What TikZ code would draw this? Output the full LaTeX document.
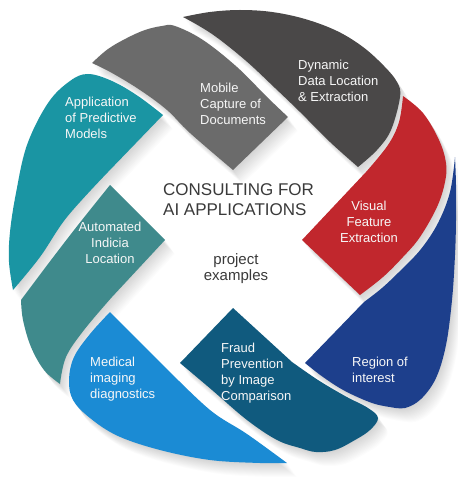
\documentclass[tikz,border=0pt]{standalone}
\usepackage{fontspec}
\setmainfont{Liberation Sans}
\definecolor{cteal}{HTML}{1A95A3}
\definecolor{cmobile}{HTML}{6B6B6B}
\definecolor{cdark}{HTML}{4A4848}
\definecolor{cred}{HTML}{C1272D}
\definecolor{cblue}{HTML}{1D3F8C}
\definecolor{cfraud}{HTML}{105A7E}
\definecolor{cmed}{HTML}{1B8BD4}
\definecolor{cauto}{HTML}{3F8A8C}
\definecolor{ctext}{HTML}{3A3A3A}
\def\pTeal{plot[smooth,tension=0.6] coordinates {(13,290) (9,262) (10,232) (16,193) (27,145) (48,103) (70,81) (88,74) (112,81) (138,96) (163,115)} -- (108,172) -- plot[smooth,tension=0.6] coordinates {(108,172) (67,217) (40,257) (13,290)} -- cycle}
\def\pMobile{plot[smooth,tension=0.6] coordinates {(92,63) (108,49) (127,38) (145,30) (162,26) (175,26) (203,40) (237,67) (267,97) (288,117)} -- (233,170) -- plot[smooth,tension=0.6] coordinates {(233,170) (190,133) (167,110) (140,90) (112,73) (92,63)} -- cycle}
\def\pDark{plot[smooth,tension=0.6] coordinates {(183,17) (210,12) (240,10) (272,12) (305,19) (337,31) (363,47) (384,66) (397,82) (400,97) (391,130) (377,150) (358,167)} -- plot[smooth,tension=0.6] coordinates {(358,167) (330,142) (300,112) (275,88) (245,60) (212,34) (183,17)} -- cycle}
\def\pRed{plot[smooth,tension=0.6] coordinates {(403,96) (423,113) (439,140) (446,163) (445,182) (437,207) (420,237) (403,257) (383,277) (360,295)} -- (302,240) -- (366,172) -- plot[smooth,tension=0.6] coordinates {(366,172) (388,145) (399,122) (403,96)} -- cycle}
\def\pBlue{plot[smooth,tension=0.6] coordinates {(455,157) (456,185) (456,220) (455,255) (452,300) (446,345) (436,378) (421,399) (405,408) (390,407)} -- plot[smooth,tension=0.6] coordinates {(390,407) (372,403) (345,391) (323,377) (305,363)} -- (364,302) -- plot[smooth,tension=0.6] coordinates {(364,302) (382,288) (401,270) (421,249) (438,223) (450,192) (455,157)} -- cycle}
\def\pFraud{(233,308) -- (292,362) -- plot[smooth,tension=0.6] coordinates {(292,362) (318,380) (345,396) (368,408) (378,418) (370,430) (355,440) (335,450) (316,452) (300,448) (277,440) (247,420) (212,390) (180,363)} -- cycle}
\def\pMed{(110,312) -- (166,368) -- plot[smooth,tension=0.6] coordinates {(166,368) (210,410) (247,434) (287,463)} -- plot[smooth,tension=0.6] coordinates {(287,463) (260,463) (210,460) (160,450) (118,436) (90,418) (73,400) (69,380) (74,357) (90,334) (110,312)} -- cycle}
\def\pAuto{(110,185) -- (165,240) -- (112,297) -- plot[smooth,tension=0.6] coordinates {(112,297) (84,330) (66,357) (60,384)} -- plot[smooth,tension=0.6] coordinates {(60,384) (44,370) (31,347) (23,320) (21,300)} -- plot[smooth,tension=0.6] coordinates {(21,300) (48,264) (78,225) (110,185)} -- cycle}
\begin{document}
\begin{tikzpicture}[x=1pt,y=-1pt,
  lbl/.style={text=white!94!gray, font=\fontsize{13}{16}\selectfont, inner sep=0pt, align=left},
  shadowfill/.style={fill=black, opacity=0.013}]
\useasboundingbox[fill=white] (0,0) rectangle (457,489);
% soft long shadows, cast downwards to the right
\foreach \k in {1,2,...,14}{
  \fill[shadowfill, shift={({0.7*\k},\k)}] \pTeal;
  \fill[shadowfill, shift={({0.7*\k},\k)}] \pMobile;
  \fill[shadowfill, shift={({0.7*\k},\k)}] \pDark;
  \fill[shadowfill, shift={({0.7*\k},\k)}] \pRed;
  \fill[shadowfill, shift={({0.7*\k},\k)}] \pBlue;
  \fill[shadowfill, shift={({0.7*\k},\k)}] \pFraud;
  \fill[shadowfill, shift={({0.7*\k},\k)}] \pMed;
  \fill[shadowfill, shift={({0.7*\k},\k)}] \pAuto;
}
% segments
\fill[cteal] \pTeal;
\fill[cmobile] \pMobile;
\fill[cdark] \pDark;
\fill[cred] \pRed;
\fill[cblue] \pBlue;
\fill[cfraud] \pFraud;
\fill[cmed] \pMed;
\fill[cauto] \pAuto;
% labels
\node[lbl, anchor=north west] (tApp) at (65,97) {Application\\of Predictive\\Models};
\node[lbl, anchor=north west] (tMob) at (200,83) {Mobile\\Capture of\\Documents};
\node[lbl, anchor=north west] (tDyn) at (298,60) {Dynamic\\Data Location\\\& Extraction};
\node[lbl, anchor=north, align=center] (tVis) at (369,201) {Visual\\Feature\\Extraction};
\node[lbl, anchor=north west] (tReg) at (352,357) {Region of\\interest};
\node[lbl, anchor=north west] (tFra) at (221,343) {Fraud\\Prevention\\by Image\\Comparison};
\node[lbl, anchor=north west] (tMed) at (90,357) {Medical\\imaging\\diagnostics};
\node[lbl, anchor=north, align=center] (tAut) at (110,222) {Automated\\Indicia\\Location};
\node[anchor=north west, inner sep=0pt, align=left, text=ctext, font=\fontsize{17}{20}\selectfont] (title) at (163,183) {CONSULTING FOR\\AI APPLICATIONS};
\node[anchor=north, inner sep=0pt, align=center, text=ctext, font=\fontsize{15}{16}\selectfont] (sub) at (236,253) {project\\examples};
\end{tikzpicture}
\end{document}
